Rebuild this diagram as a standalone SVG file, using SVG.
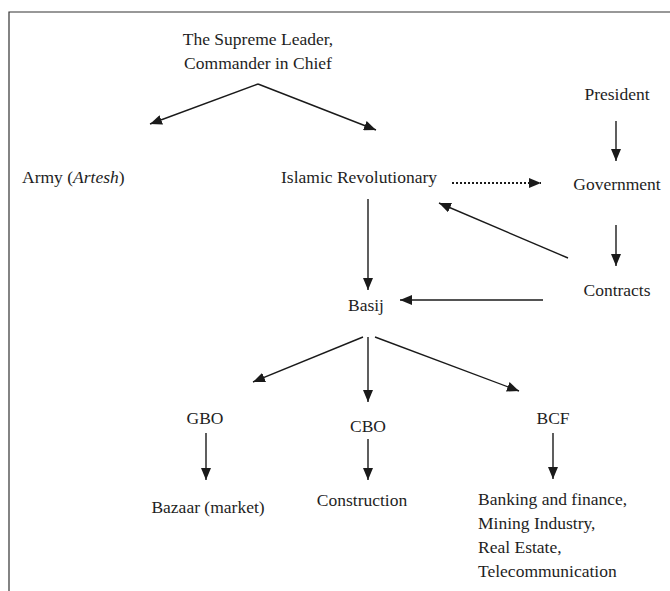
<svg xmlns="http://www.w3.org/2000/svg" width="670" height="591" viewBox="0 0 670 591">
<defs>
<marker id="ah" viewBox="0 0 12 10" refX="12" refY="5" markerWidth="12" markerHeight="10" markerUnits="userSpaceOnUse" orient="auto">
<path d="M0,0 L12,5 L0,10 Z" fill="#1a1a1a"/>
</marker>
</defs>
<style>
text{font-family:"Liberation Serif","Times New Roman",serif;font-size:17.5px;fill:#1e1e1e}
.c{text-anchor:middle}
.l{fill:none;stroke:#1a1a1a;stroke-width:1.4;marker-end:url(#ah)}
.d{fill:none;stroke:#1a1a1a;stroke-width:2;stroke-dasharray:2,2;marker-end:url(#ah)}
.frame{fill:none;stroke:#333;stroke-width:1.2}
</style>
<rect width="670" height="591" fill="#fff"/>
<path class="frame" d="M9,591 V12 H670"/>
<g id="leader"><text class="c" x="258" y="45">The Supreme Leader,</text><text class="c" x="258" y="69">Commander in Chief</text></g>
<g id="army"><text x="22" y="183">Army (<tspan font-style="italic">Artesh</tspan>)</text></g>
<g id="irgc"><text x="281" y="183">Islamic Revolutionary</text></g>
<g id="president"><text class="c" x="617" y="100">President</text></g>
<g id="government"><text class="c" x="617" y="190">Government</text></g>
<g id="contracts"><text class="c" x="617" y="296">Contracts</text></g>
<g id="basij"><text class="c" x="366" y="311">Basij</text></g>
<g id="gbo"><text class="c" x="205" y="424">GBO</text></g>
<g id="cbo"><text class="c" x="368" y="432">CBO</text></g>
<g id="bcf"><text class="c" x="553" y="424">BCF</text></g>
<g id="bazaar"><text class="c" x="208" y="513">Bazaar (market)</text></g>
<g id="construction"><text class="c" x="362" y="506">Construction</text></g>
<g id="banking"><text x="478" y="505">Banking and finance,</text><text x="478" y="529">Mining Industry,</text><text x="478" y="553">Real Estate,</text><text x="478" y="577">Telecommunication</text></g>
<g id="connectors">
<path class="l" d="M258,84 L150,124"/>
<path class="l" d="M258,84 L376,130"/>
<path class="d" d="M452,183 L541,183"/>
<path class="l" d="M616,121 L616,161"/>
<path class="l" d="M616,225 L616,266"/>
<path class="l" d="M568,258 L439,203"/>
<path class="l" d="M543,300 L400,300"/>
<path class="l" d="M368,199 L368,290"/>
<path class="l" d="M363,337 L253,382"/>
<path class="l" d="M368,337 L368,402"/>
<path class="l" d="M375,337 L519,391"/>
<path class="l" d="M206,433 L206,480"/>
<path class="l" d="M368,439 L368,480"/>
<path class="l" d="M553,433 L553,479"/>
</g>
</svg>
